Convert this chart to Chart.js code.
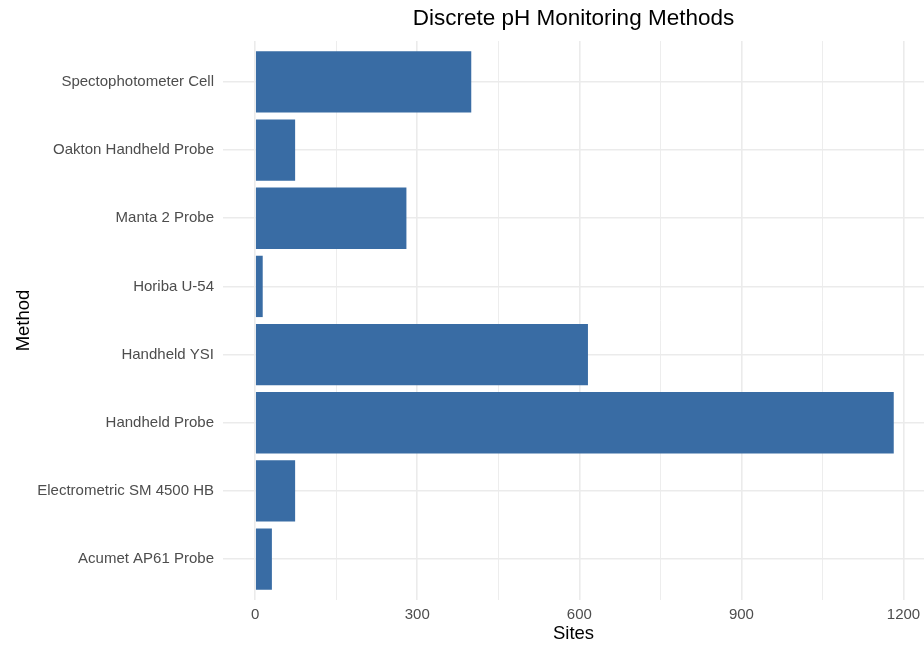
<!DOCTYPE html>
<html>
<head>
<meta charset="utf-8">
<script src="https://cdn.jsdelivr.net/npm/chart.js@4"></script>
<style>
    body { margin: 0; background: #fff; }
    #wrap { width: 924px; height: 646px; }
</style>
</head>
<body>
<div id="wrap"><canvas id="phChart" width="924" height="646"></canvas></div>
<script>
const methods = [
    "Spectophotometer Cell",
    "Oakton Handheld Probe",
    "Manta 2 Probe",
    "Horiba U-54",
    "Handheld YSI",
    "Handheld Probe",
    "Electrometric SM 4500 HB",
    "Acumet AP61 Probe"
];
const sites = [400, 74, 280, 14, 616, 1182, 74, 31];
const siteTicks = [0, 150, 300, 450, 600, 750, 900, 1050, 1200];
const labelledTicks = [0, 300, 600, 900, 1200];

const chartTitle = "Discrete pH Monitoring Methods";
const fontName = "'Liberation Sans', Arial, sans-serif";

// ggplot-style title, centred over the panel rather than the canvas
const panelTitle = {
    id: "panelTitle",
    afterDraw(chart) {
        const ctx = chart.ctx;
        const area = chart.chartArea;
        ctx.save();
        ctx.font = "22.5px " + fontName;
        ctx.fillStyle = "#000";
        ctx.textAlign = "center";
        ctx.textBaseline = "middle";
        ctx.fillText(chartTitle, (area.left + area.right) / 2, 19);
        ctx.restore();
    }
};

new Chart(document.getElementById("phChart"), {
    type: "bar",
    data: {
        datasets: [{
            label: "Sites",
            data: sites.map((v, i) => ({ x: v, y: i })),
            backgroundColor: "#396ca4",
            borderWidth: 0,
            categoryPercentage: 1,
            barPercentage: 0.9
        }]
    },
    options: {
        indexAxis: "y",
        responsive: false,
        animation: false,
        layout: { padding: { top: 41, right: 0, bottom: 0, left: 0 } },
        plugins: {
            legend: { display: false },
            tooltip: { enabled: false }
        },
        scales: {
            x: {
                type: "linear",
                min: -59.5,
                max: 1238,
                afterBuildTicks: scale => {
                    scale.ticks = siteTicks.map(v => ({ value: v }));
                },
                afterFit: scale => {
                    scale.height = 46;
                    scale.paddingLeft = 0;
                    scale.paddingRight = 0;
                },
                ticks: {
                    autoSkip: false,
                    maxRotation: 0,
                    padding: 6,
                    color: "#4d4d4d",
                    font: { family: fontName, size: 15 },
                    callback: v => labelledTicks.includes(v) ? String(v) : ""
                },
                grid: {
                    color: "#ebebeb",
                    lineWidth: ctx => (ctx.tick && labelledTicks.includes(ctx.tick.value)) ? 1.6 : 0.9,
                    drawTicks: false
                },
                border: { display: false },
                title: {
                    display: true,
                    text: "Sites",
                    color: "#000",
                    font: { family: fontName, size: 18.5 },
                    padding: { top: 0, bottom: 1 }
                }
            },
            y: {
                type: "linear",
                reverse: true,
                offset: false,
                min: -0.6,
                max: methods.length - 1 + 0.6,
                afterBuildTicks: scale => {
                    scale.ticks = methods.map((m, i) => ({ value: i }));
                },
                afterFit: scale => { scale.width = 223; },
                ticks: {
                    autoSkip: false,
                    padding: 9,
                    color: "#4d4d4d",
                    font: { family: fontName, size: 15 },
                    callback: v => methods[v] || ""
                },
                grid: {
                    offset: false,
                    color: "#ebebeb",
                    lineWidth: 1.6,
                    drawTicks: false
                },
                border: { display: false },
                title: {
                    display: true,
                    text: "Method",
                    color: "#000",
                    font: { family: fontName, size: 18.5 },
                    padding: { top: 13, bottom: 0 }
                }
            }
        }
    },
    plugins: [panelTitle]
});
</script>
</body>
</html>
